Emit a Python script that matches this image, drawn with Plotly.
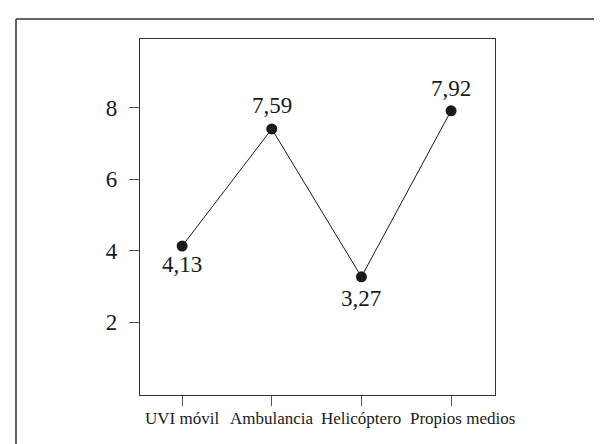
import plotly.graph_objects as go

categories = ["UVI móvil", "Ambulancia", "Helicóptero", "Propios medios"]
values = [4.13, 7.41, 3.27, 7.92]
value_labels = ["4,13", "7,59", "3,27", "7,92"]
y_ticks = [2, 4, 6, 8]

# styling: vertical offset of each value label (px) and horizontal nudge of category labels
label_yshift = [-18, 23, -22, 22]
cat_xshift = [0, 0, 0, 11]

FONT = "Liberation Serif, Times New Roman, serif"

fig = go.Figure()
fig.add_trace(go.Scatter(
    x=list(range(len(categories))), y=values,
    mode="lines+markers",
    line=dict(color="#1a1a1a", width=1),
    marker=dict(color="#1a1a1a", size=11),
    hoverinfo="skip", showlegend=False, cliponaxis=False,
))

for i, (v, t) in enumerate(zip(values, value_labels)):
    fig.add_annotation(x=i, y=v, text=t, showarrow=False, yshift=label_yshift[i],
                       font=dict(family=FONT, size=23, color="#1a1a1a"))

for i, c in enumerate(categories):
    fig.add_annotation(x=i, xref="x", y=0, yref="paper", text=c, showarrow=False,
                       yanchor="top", yshift=-12, xshift=cat_xshift[i],
                       font=dict(family=FONT, size=17, color="#1a1a1a"))

# outer frame (top, left, right lines)
frame = dict(color="#333", width=1.5)
fig.add_shape(type="line", xref="paper", yref="paper", x0=-0.3493, x1=1.3127, y0=1.0562, y1=1.0562, line=frame)
fig.add_shape(type="line", xref="paper", yref="paper", x0=-0.3493, x1=-0.3493, y0=-0.3, y1=1.0562, line=frame)
fig.add_shape(type="line", xref="paper", yref="paper", x0=1.3127, x1=1.3127, y0=-0.3, y1=1.0562, line=frame)

fig.update_layout(
    width=602, height=444,
    margin=dict(l=132, r=115, t=31, b=57, pad=0, autoexpand=False),
    paper_bgcolor="white", plot_bgcolor="white",
    font=dict(family=FONT, color="#1a1a1a"),
    xaxis=dict(
        tickmode="array", tickvals=list(range(len(categories))), showticklabels=False,
        range=[-0.47, 3.49], showgrid=False, zeroline=False, automargin=False,
        showline=True, mirror=True, linecolor="#333", linewidth=1.2,
        ticks="outside", ticklen=10, tickcolor="#555", tickwidth=1,
    ),
    yaxis=dict(
        tickmode="array", tickvals=y_ticks, ticktext=[str(t) for t in y_ticks],
        range=[-0.04, 9.93], showgrid=False, zeroline=False, automargin=False,
        showline=True, mirror=True, linecolor="#333", linewidth=1.2,
        ticks="outside", ticklen=10, tickcolor="#555", tickwidth=1,
        ticklabelstandoff=7,
        tickfont=dict(family=FONT, size=23, color="#1a1a1a"),
    ),
)

fig.write_html("out.html")
